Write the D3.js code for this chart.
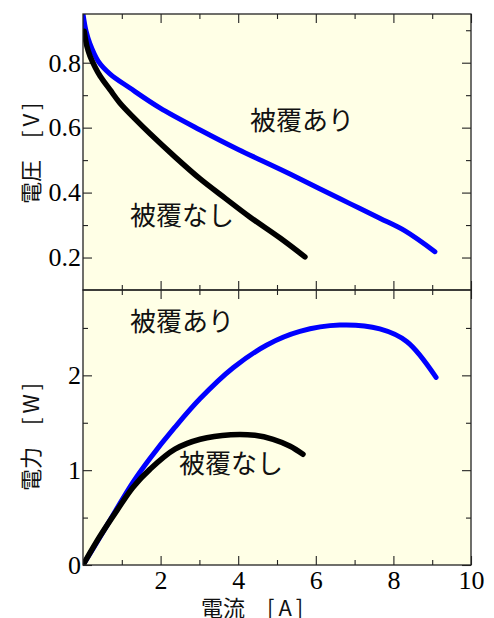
<!DOCTYPE html>
<html>
<head>
<meta charset="utf-8">
<script src="https://cdn.jsdelivr.net/npm/d3@7"></script>
<style>
  html, body { margin: 0; padding: 0; background: #ffffff; }
  svg { display: block; }
</style>
</head>
<body>
<script>
// ---- data ----
const currentCoatedV   = [0, 0.077, 0.18, 0.39, 0.70, 1.21, 1.98, 3.02, 4.0, 5.08, 6.1, 6.88, 7.65, 8.3, 9.07];
const voltageCoated    = [0.95, 0.898, 0.858, 0.805, 0.765, 0.722, 0.661, 0.593, 0.533, 0.472, 0.412, 0.366, 0.321, 0.282, 0.218];
const currentUncoatedV = [0.03, 0.10, 0.18, 0.31, 0.44, 0.70, 0.95, 1.34, 1.73, 2.37, 3.02, 3.66, 4.30, 5.08, 5.72];
const voltageUncoated  = [0.897, 0.851, 0.821, 0.787, 0.759, 0.716, 0.676, 0.627, 0.581, 0.51, 0.442, 0.383, 0.325, 0.26, 0.202];

const currentCoatedP   = [0, 0.44, 0.88, 1.29, 1.73, 2.37, 3.02, 3.87, 4.74, 5.59, 6.62, 7.65, 8.35, 9.1];
const powerCoated      = [0, 0.295, 0.60, 0.874, 1.126, 1.453, 1.755, 2.08, 2.32, 2.463, 2.53, 2.49, 2.355, 1.979];
const currentUncoatedP = [0, 0.44, 0.88, 1.29, 1.73, 2.37, 3.02, 3.81, 4.43, 4.90, 5.34, 5.67];
const powerUncoated    = [0, 0.305, 0.579, 0.821, 1.011, 1.221, 1.326, 1.374, 1.368, 1.326, 1.253, 1.168];

const xTickLabels  = [2, 4, 6, 8, 10];
const xMinorTicks  = [1, 3, 5, 7, 9];
const vTickLabels  = [0.2, 0.4, 0.6, 0.8];
const vMinorTicks  = [0.3, 0.5, 0.7, 0.9];
const pTickLabels  = [0, 1, 2];
const pMinorTicks  = [0.5, 1.5, 2.5];

const labelCoated = "被覆あり";
const labelUncoated = "被覆なし";
const xTitle = ["電流　", "[A]"];
const vTitle = ["電圧　", "[V]"];
const pTitle = ["電力　", "[W]"];

// ---- layout ----
const W = 494, H = 618;
const L = 83, R = 471, T = 14, MID = 290, B = 565;
const serif = "Liberation Serif, Times New Roman, serif";
const sans = "Noto Sans CJK JP, Noto Sans, sans-serif";

const svg = d3.select("body").append("svg").attr("width", W).attr("height", H);

const x = d3.scaleLinear().domain([0, 10]).range([L, R]);
const yV = d3.scaleLinear().domain([0.1, 0.95]).range([MID, T]);
const yP = d3.scaleLinear().domain([0, 2.9]).range([B, MID]);

const panels = [
  {y: yV, top: T, bottom: MID, labels: vTickLabels, minor: vMinorTicks, fmt: d3.format(".1f"), id: "cv"},
  {y: yP, top: MID, bottom: B, labels: pTickLabels, minor: pMinorTicks, fmt: d3.format("d"), id: "cp"}
];

panels.forEach(p => {
  svg.append("rect").attr("x", L).attr("y", p.top).attr("width", R - L).attr("height", p.bottom - p.top)
    .attr("fill", "#ffffe6");
  svg.append("clipPath").attr("id", p.id).append("rect")
    .attr("x", L).attr("y", p.top).attr("width", R - L).attr("height", p.bottom - p.top);
});

function styleAxis(g) {
  g.attr("font-family", null);
  g.select(".domain").remove();
  g.selectAll(".tick line").attr("stroke", "#222").attr("stroke-width", 1.1);
  g.selectAll(".tick text").style("font-family", serif).attr("font-size", 26).attr("fill", "#000");
}

const majorLen = 9, minorLen = 5;
panels.forEach((p, i) => {
  svg.append("g").attr("transform", `translate(${L},0)`)
    .call(d3.axisLeft(p.y).tickValues(p.labels).tickSize(-majorLen).tickPadding(2).tickFormat(p.fmt)).call(styleAxis);
  svg.append("g").attr("transform", `translate(${L},0)`)
    .call(d3.axisLeft(p.y).tickValues(p.minor).tickSize(-minorLen).tickFormat("")).call(styleAxis);
  svg.append("g").attr("transform", `translate(${R},0)`)
    .call(d3.axisRight(p.y).tickValues(p.labels).tickSize(-majorLen).tickFormat("")).call(styleAxis);
  svg.append("g").attr("transform", `translate(${R},0)`)
    .call(d3.axisRight(p.y).tickValues(p.minor).tickSize(-minorLen).tickFormat("")).call(styleAxis);
  svg.append("g").attr("transform", `translate(0,${p.top})`)
    .call(d3.axisTop(x).tickValues(xTickLabels).tickSize(-majorLen).tickFormat("")).call(styleAxis);
  svg.append("g").attr("transform", `translate(0,${p.top})`)
    .call(d3.axisTop(x).tickValues(xMinorTicks).tickSize(-minorLen).tickFormat("")).call(styleAxis);
  const bottomAxis = d3.axisBottom(x).tickValues(xTickLabels).tickSize(-majorLen).tickPadding(6)
    .tickFormat(i === 1 ? d3.format("d") : "");
  svg.append("g").attr("transform", `translate(0,${p.bottom})`).call(bottomAxis).call(styleAxis);
  svg.append("g").attr("transform", `translate(0,${p.bottom})`)
    .call(d3.axisBottom(x).tickValues(xMinorTicks).tickSize(-minorLen).tickFormat("")).call(styleAxis);
});

// ---- lines ----
function draw(xs, ys, yScale, color, width, clip) {
  const pts = xs.map((d, i) => [d, ys[i]]);
  const line = d3.line().x(d => x(d[0])).y(d => yScale(d[1])).curve(d3.curveCatmullRom.alpha(0.5));
  svg.append("path").datum(pts).attr("d", line).attr("fill", "none")
    .attr("stroke", color).attr("stroke-width", width)
    .attr("stroke-linecap", "round").attr("stroke-linejoin", "round")
    .attr("clip-path", `url(#${clip})`);
}
draw(currentCoatedV, voltageCoated, yV, "#0000ff", 5, "cv");
draw(currentUncoatedV, voltageUncoated, yV, "#000000", 5.5, "cv");
draw(currentCoatedP, powerCoated, yP, "#0000ff", 5, "cp");
draw(currentUncoatedP, powerUncoated, yP, "#000000", 5.5, "cp");

panels.forEach(p => {
  svg.append("rect").attr("x", L).attr("y", p.top).attr("width", R - L).attr("height", p.bottom - p.top)
    .attr("fill", "none").attr("stroke", "#222").attr("stroke-width", 1.3);
});

// ---- in-plot labels ----
function label(txt, px, py) {
  svg.append("text").attr("x", px).attr("y", py).style("font-family", sans).attr("font-size", 26)
    .attr("fill", "#111").text(txt);
}
label(labelCoated, 250, 130);
label(labelUncoated, 130, 225);
label(labelCoated, 130, 331);
label(labelUncoated, 179, 473);

// ---- axis titles ----
function title(parts, tx, ty, rot) {
  const t = svg.append("text").style("font-family", sans).attr("font-size", 22).attr("fill", "#111")
    .attr("transform", `translate(${tx},${ty}) rotate(${rot})`);
  t.append("tspan").text(parts[0]);
  t.append("tspan").attr("letter-spacing", "4px").text(parts[1]);
}
title(xTitle, 201, 616, 0);
title(vTitle, 39, 204, -90);
title(pTitle, 39, 491, -90);
</script>
</body>
</html>
